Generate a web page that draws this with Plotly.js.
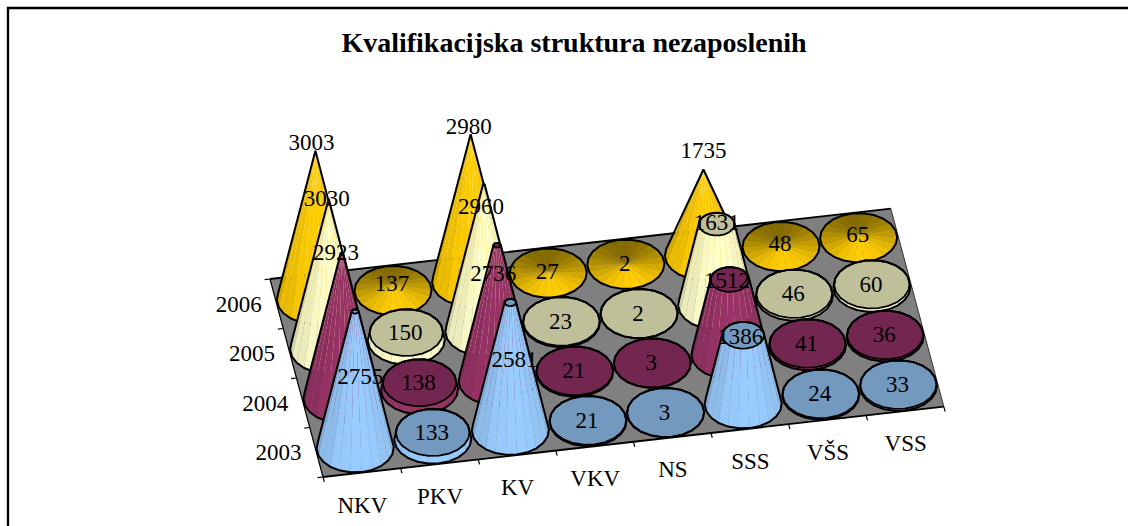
<!DOCTYPE html>
<html><head><meta charset="utf-8">
<script src="https://cdn.plot.ly/plotly-3.0.1.min.js"></script>
<style>html,body{margin:0;padding:0;background:#fff}#c{width:1128px;height:526px}</style>
</head><body><div id="c"></div>
<script>
const categories = ['NKV','PKV','KV','VKV','NS','SSS','VŠS','VSS'];
const years = ['2003','2004','2005','2006'];
const v2003 = [2755,133,2581,21,3,1386,24,33];
const v2004 = [2923,138,2736,21,3,1512,41,36];
const v2005 = [3030,150,2960,23,2,1631,46,60];
const v2006 = [3003,137,2980,27,2,1735,48,65];
const seriesValues = [v2003,v2004,v2005,v2006];
const seriesSide = [[153,204,255],[153,51,102],[255,255,204],[255,204,0]];
const seriesTop = ['#7399bf','#732650','#bfbf99',null];
const titleText = 'Kvalifikacijska struktura nezaposlenih';
// label nudges for the tall columns, [dx, dy] from the top of the column
const labelShift = {'0,0':[5,67],'0,2':[4,59],'0,5':[-3,3],'1,0':[-6,1],'1,2':[-4,30],'1,5':[-3,3],'2,0':[-2,1],'2,2':[-3,24],'2,5':[0,0],'3,0':[-4,-6],'3,2':[-2,-6],'3,5':[0,-17]};

const O = {x:323,y:477}, U = {x:77.6,y:-8.8}, V = {x:-13.25,y:-49.5}, K = 0.0495, MAX = 3030, N = 22;
const floorPt = (i,j,h=0) => [O.x+i*U.x+j*V.x, O.y+i*U.y+j*V.y-h*K];
const traces = [];
function poly(pts, fill, line, w){
  traces.push({type:'scatter',mode:line?'lines':'none',x:pts.map(p=>p[0]).concat(pts[0][0]),y:pts.map(p=>p[1]).concat(pts[0][1]),
    fill:fill?'toself':'none',fillcolor:fill||undefined,line:{color:line||'rgba(0,0,0,0)',width:w||0},hoverinfo:'skip',showlegend:false});
}
function seg(a,b,w,c){traces.push({type:'scatter',mode:'lines',x:[a[0],b[0]],y:[a[1],b[1]],line:{color:c||'#000',width:w},hoverinfo:'skip',showlegend:false});}
function hull(pts){
  const p=pts.slice().sort((a,b)=>a[0]-b[0]||a[1]-b[1]);
  const cr=(o,a,b)=>(a[0]-o[0])*(b[1]-o[1])-(a[1]-o[1])*(b[0]-o[0]);
  const lo=[],up=[];
  for(const q of p){while(lo.length>1&&cr(lo[lo.length-2],lo[lo.length-1],q)<=0)lo.pop();lo.push(q);}
  for(const q of p.reverse()){while(up.length>1&&cr(up[up.length-2],up[up.length-1],q)<=0)up.pop();up.push(q);}
  return lo.slice(0,-1).concat(up.slice(0,-1));
}
const col=(c,s)=>'rgb('+c.map(x=>Math.round(x*s)).join(',')+')';
// floor
poly([floorPt(0,0),floorPt(8,0),floorPt(8,4),floorPt(0,4)],'#808080',null);
seg(floorPt(0,0),floorPt(8,0),1.8); seg(floorPt(0,4),floorPt(8,4),1.8);
seg(floorPt(0,0),floorPt(0,4),1.2); seg(floorPt(8,0),floorPt(8,4),1,'#333');
for(let i=0;i<=8;i++) seg(floorPt(i,-0.1),floorPt(i,0),1.2);
for(let j=0;j<=4;j++) seg(floorPt(-0.07,j),floorPt(0,j),1.2);
// columns
const R=0.49;
function ring(i,j,h,r){const a=[];for(let t=0;t<N;t++){const th=2*Math.PI*(t+.5)/N;
  a.push(floorPt(i+.5+R*r*Math.cos(th),j+.5+R*r*Math.sin(th),h));}return a;}
for(let j=3;j>=0;j--) for(let i=0;i<8;i++){
  const v=seriesValues[j][i], side=seriesSide[j], pointed=j===3;
  const rTop=pointed?0:Math.max(0,1-v/MAX);
  const base=ring(i,j,0,1), top=ring(i,j,v,rTop);
  const steep=Math.min(1,v*K/30);
  for(let t=0;t<N;t++){
    const n=(t+1)%N, th=2*Math.PI*(t+1)/N, front=-Math.sin(th);
    if(steep>=1 && front<-0.15) continue;
    let s;
    if(steep>=1) s=0.86+0.14*front+0.03*((t%2)?1:-1)*(1-Math.abs(front));
    else if(pointed) s=0.76+0.24*front;
    else s=0.9+0.1*front;
    poly([base[t],base[n],top[n],top[t]],col(side,Math.min(1,s)),null);
  }
  if(!pointed) poly(top,seriesTop[j],'#000',1.8);
  poly(hull(base.concat(top)),null,'#000',2);
}
// frame: left and top edges only reach the picture
traces.push({type:'scatter',mode:'lines',x:[8,8,1128],y:[526,8,8],line:{color:'#000',width:2.3},hoverinfo:'skip',showlegend:false});
// texts
const tx=[],ty=[],tt=[];
for(let j=3;j>=0;j--)for(let i=0;i<8;i++){
  const v=seriesValues[j][i],p=floorPt(i+.5,j+.5,v);
  const sh=labelShift[j+','+i]||[-1,1.5];
  tx.push(p[0]+sh[0]);
  ty.push(p[1]+sh[1]);
  tt.push(String(v));
}
const serif='"Liberation Serif",serif';
traces.push({type:'scatter',mode:'text',x:tx,y:ty,text:tt,textposition:'middle center',textfont:{family:serif,size:23,color:'#000'},hoverinfo:'skip',showlegend:false});
const cp=categories.map((c,i)=>floorPt(i+.5,-0.5));
traces.push({type:'scatter',mode:'text',x:cp.map(p=>p[0]-6),y:cp.map(p=>p[1]+9.5),text:categories,textposition:'middle center',textfont:{family:serif,size:23,color:'#000'},hoverinfo:'skip',showlegend:false});
const yp=years.map((c,j)=>floorPt(0,j+.5));
traces.push({type:'scatter',mode:'text',x:yp.map(p=>p[0]-38),y:yp.map(p=>p[1]+2),text:years,textposition:'middle center',textfont:{family:serif,size:23,color:'#000'},hoverinfo:'skip',showlegend:false});
traces.push({type:'scatter',mode:'text',x:[574],y:[45],text:['<b>'+titleText+'</b>'],textposition:'middle center',textfont:{family:serif,size:28,color:'#000'},hoverinfo:'skip',showlegend:false});
Plotly.newPlot('c',traces,{width:1128,height:526,margin:{l:0,r:0,t:0,b:0},paper_bgcolor:'#fff',plot_bgcolor:'#fff',showlegend:false,
  xaxis:{range:[0,1128],visible:false,fixedrange:true},yaxis:{range:[526,0],visible:false,fixedrange:true}},{displayModeBar:false,staticPlot:true});
</script></body></html>
